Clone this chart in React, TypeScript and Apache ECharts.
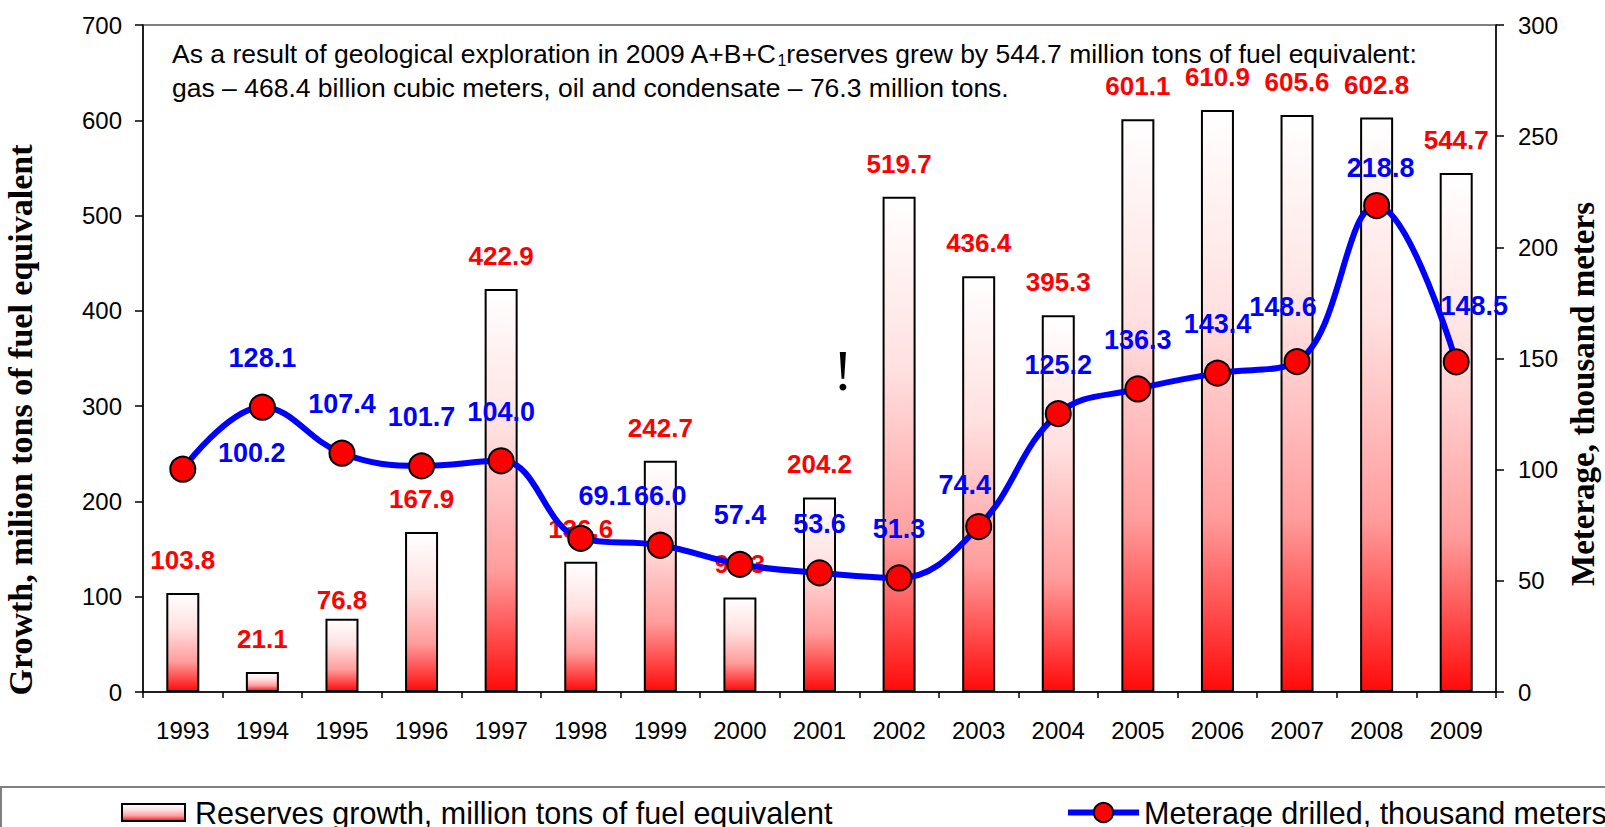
import React, { useEffect, useRef } from 'react';
import * as echarts from 'echarts';

const years = ['1993', '1994', '1995', '1996', '1997', '1998', '1999', '2000', '2001', '2002', '2003', '2004', '2005', '2006', '2007', '2008', '2009'];
// Reserves growth, million tons of fuel equivalent (left axis)
const reserves = [103.8, 21.1, 76.8, 167.9, 422.9, 136.6, 242.7, 99.3, 204.2, 519.7, 436.4, 395.3, 601.1, 610.9, 605.6, 602.8, 544.7];
// Meterage drilled, thousand meters (right axis)
const meterage = [100.2, 128.1, 107.4, 101.7, 104.0, 69.1, 66.0, 57.4, 53.6, 51.3, 74.4, 125.2, 136.3, 143.4, 148.6, 218.8, 148.5];

const leftAxis = { min: 0, max: 700, step: 100 };
const rightAxis = { min: 0, max: 300, step: 50 };

const seriesNames = ['Reserves growth, million tons of fuel equivalent', 'Meterage drilled, thousand meters'];
const axisTitles = ['Growth, milion tons of fuel equivalent', 'Meterage, thousand meters'];
const noteLine1 = ['As a result of geological exploration in 2009 A+B+C', '1', 'reserves grew by 544.7 million tons of fuel equivalent:'];
const noteLine2 = 'gas \u2013 468.4 billion cubic meters, oil and condensate \u2013 76.3 million tons.';

// label placement tweaks (styling only)
const reservesLabelDistance: Record<number, number> = { 2: 6 };
const meterageLabelOffset: Record<number, number[]> = {
  0: [69, 33],
  5: [24, 7],
  10: [-14, 7],
  14: [-14, -6],
  15: [4, 11],
  16: [18, -7],
};

const SANS = '"Liberation Sans", Arial, Helvetica, sans-serif';
const SERIF = '"Liberation Serif", "Times New Roman", serif';

export default function App() {
  const ref = useRef<HTMLDivElement>(null);

  useEffect(() => {
    document.body.style.margin = '0';
    const chart = echarts.init(ref.current as HTMLDivElement, null, { renderer: 'svg' });

    const barGradient = new echarts.graphic.LinearGradient(0, 0, 0, 1, [
      { offset: 0, color: '#ffffff' },
      { offset: 0.35, color: '#ffe0e0' },
      { offset: 0.7, color: '#ff9c9c' },
      { offset: 1, color: '#ff0a0a' },
    ]);

    const fmt = (p: any) => Number(p.value).toFixed(1);

    const option: any = {
      animation: false,
      backgroundColor: '#ffffff',
      grid: {
        left: 143,
        right: 109,
        top: 25,
        bottom: 135,
        show: true,
        borderColor: '#808080',
        borderWidth: 2,
        outerBoundsMode: 'none',
        containLabel: false,
      },
      legend: [
        {
          data: [seriesNames[0]],
          left: 121,
          top: 797,
          padding: 0,
          itemWidth: 63,
          itemHeight: 17,
          icon: 'rect',
          selectedMode: false,
          textStyle: { color: '#000', fontSize: 30.5, lineHeight: 24, fontFamily: SANS, padding: [0, 0, 0, 5] },
        },
        {
          data: [seriesNames[1]],
          left: 1065,
          top: 797,
          padding: 0,
          itemWidth: 71,
          itemHeight: 24,
          selectedMode: false,
          lineStyle: { color: '#0000ff', width: 6 },
          textStyle: { color: '#000', fontSize: 30.5, lineHeight: 24, fontFamily: SANS },
        },
      ],
      xAxis: {
        type: 'category',
        data: years,
        boundaryGap: true,
        axisLine: { show: true, lineStyle: { color: '#000', width: 1.5 } },
        axisTick: { show: true, length: 6, lineStyle: { color: '#000', width: 1.5 } },
        axisLabel: { color: '#000', fontSize: 24, fontFamily: SANS, margin: 26 },
        splitLine: { show: false },
      },
      yAxis: [
        {
          type: 'value',
          position: 'left',
          min: leftAxis.min,
          max: leftAxis.max,
          interval: leftAxis.step,
          axisLine: { show: true, lineStyle: { color: '#000', width: 1.5 } },
          axisTick: { show: true, length: 8, lineStyle: { color: '#000', width: 1.5 } },
          axisLabel: { color: '#000', fontSize: 24, fontFamily: SANS, margin: 21 },
          splitLine: { show: false },
        },
        {
          type: 'value',
          position: 'right',
          min: rightAxis.min,
          max: rightAxis.max,
          interval: rightAxis.step,
          axisLine: { show: true, lineStyle: { color: '#000', width: 1.5 } },
          axisTick: { show: true, length: 8, lineStyle: { color: '#000', width: 1.5 } },
          axisLabel: { color: '#000', fontSize: 24, fontFamily: SANS, margin: 22 },
          splitLine: { show: false },
        },
      ],
      series: [
        {
          name: seriesNames[0],
          type: 'bar',
          yAxisIndex: 0,
          z: 2,
          barWidth: 33,
          data: reserves.map((v, i) =>
            reservesLabelDistance[i] !== undefined ? { value: v, label: { distance: reservesLabelDistance[i] } } : v
          ),
          itemStyle: { color: barGradient, borderColor: '#000', borderWidth: 2 },
          label: {
            show: true,
            position: 'top',
            distance: 20,
            color: '#ff0000',
            fontWeight: 'bold',
            fontSize: 26,
            fontFamily: SANS,
            formatter: fmt,
          },
        },
        {
          name: seriesNames[1],
          type: 'line',
          yAxisIndex: 1,
          z: 3,
          smooth: 0.4,
          symbol: 'circle',
          symbolSize: 25,
          data: meterage.map((v, i) =>
            meterageLabelOffset[i] ? { value: v, label: { offset: meterageLabelOffset[i] } } : v
          ),
          lineStyle: { color: '#0000ff', width: 6 },
          itemStyle: { color: '#ff0000', borderColor: '#000', borderWidth: 2 },
          label: {
            show: true,
            position: 'top',
            distance: 22,
            color: '#0000ff',
            fontWeight: 'bold',
            fontSize: 27,
            fontFamily: SANS,
            formatter: fmt,
          },
        },
      ],
      graphic: [
        {
          type: 'text',
          x: 172,
          y: 54,
          style: {
            text: `{n|${noteLine1[0]}}{s|${noteLine1[1]}}{n|${noteLine1[2]}}`,
            rich: {
              n: { fontSize: 26.5, fontFamily: SANS, fill: '#000', lineHeight: 28, verticalAlign: 'middle' },
              s: { fontSize: 16, fontFamily: SANS, fill: '#000', lineHeight: 16, verticalAlign: 'bottom' },
            },
            verticalAlign: 'middle',
            fill: '#000',
          },
        },
        {
          type: 'text',
          x: 172,
          y: 88,
          style: { text: noteLine2, fontSize: 26.5, fontFamily: SANS, fill: '#000', verticalAlign: 'middle' },
        },
        {
          type: 'text',
          x: 20,
          y: 420,
          rotation: Math.PI / 2,
          style: {
            text: axisTitles[0],
            fontSize: 34,
            fontWeight: 'bold',
            fontFamily: SERIF,
            fill: '#000',
            align: 'center',
            verticalAlign: 'middle',
          },
        },
        {
          type: 'text',
          x: 1583,
          y: 394,
          rotation: Math.PI / 2,
          style: {
            text: axisTitles[1],
            fontSize: 33,
            fontWeight: 'bold',
            fontFamily: SERIF,
            fill: '#000',
            align: 'center',
            verticalAlign: 'middle',
          },
        },
        {
          type: 'text',
          x: 843,
          y: 370,
          style: { text: '!', fontSize: 58, fontFamily: SERIF, fill: '#000', align: 'center', verticalAlign: 'middle' },
        },
        {
          type: 'rect',
          shape: { x: 1, y: 787, width: 1700, height: 100 },
          style: { fill: 'none', stroke: '#808080', lineWidth: 2 },
        },
      ],
    };

    chart.setOption(option);
    return () => chart.dispose();
  }, []);

  return (
    <div
      ref={ref}
      style={{ position: 'absolute', left: 0, top: 0, width: 1605, height: 827, background: '#ffffff' }}
    />
  );
}
